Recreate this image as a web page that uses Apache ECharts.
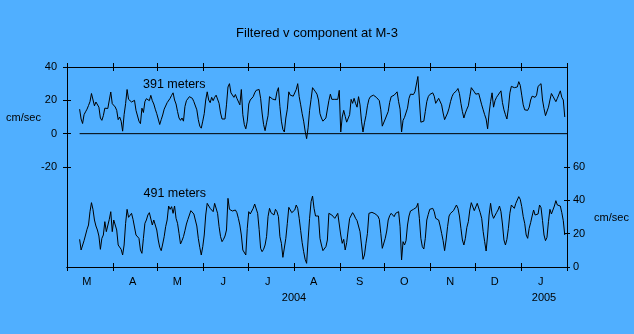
<!DOCTYPE html>
<html>
<head>
<meta charset="utf-8">
<script src="https://cdn.jsdelivr.net/npm/echarts@6/dist/echarts.min.js"></script>
<style>
html,body{margin:0;padding:0;background:#50AFFF;}
#c{width:634px;height:334px;}
</style>
</head>
<body>
<div id="c"></div>
<script>
// ---- Data ----
const TITLE = 'Filtered v component at M-3';
const seriesNames = ['391 meters', '491 meters'];
const monthLabels = ['M','A','M','J','J','A','S','O','N','D','J'];
const yearLabels = ['2004','2005'];
const leftTickValues = [-20, 0, 20, 40];
const rightTickValues = [0, 20, 40, 60];
// first sample is on day 8.5 after 1 March 2004, one value per day
const START_DAY = 8.5;
const v391 = [
14.7,8.8,6.1,11.4,13.1,14.7,16.9,19.2,24.1,24.5,
16.7,19,20.2,15.9,9.4,8,10.8,15.3,14.3,15.1,
14.7,25,18,19,16,14,8.4,10,7.5,1.5,
11.4,18,26.5,20.6,19.8,19,19,20,14,14.7,
7.5,6,15.3,12.7,19.2,21,20.6,19.8,23,19.8,
17.8,14.7,12,8.8,5.5,8.4,11.2,14.7,14.3,18.6,
19.8,21.2,23,24.5,20.2,17.8,13.3,9.4,8,9.4,
7.5,16.3,19.8,20.2,22.2,23.1,21.2,19.2,18.6,14.3,
8.4,4.5,3.3,7.5,12,20.2,25.1,20.2,18.6,21.8,
19.8,21.8,23.1,23.7,18.2,12.4,8.8,8.4,8.8,17.3,
28,30,24.5,24.5,21.8,23.5,21.2,20.6,17.3,26.5,
11.4,5.5,2.9,7.5,17.8,20.2,20.2,22.2,24.5,26,
27,26.5,21.2,12.4,5.5,1.8,6.5,10.8,22.2,22.2,
20.8,20.2,20.2,25.1,27.6,16.3,7.5,2.5,1,9.4,
14.7,25.1,23.1,22.5,22.5,23.1,26.5,30,22.2,17.3,
12,7.5,1.6,-3,3.5,14,20.6,27.6,27,25.1,
23.7,20.2,
12,9.4,7.5,8,9.4,8.2,19.8,23.7,20.6,21.2,
20.6,20.6,20.6,26,1,10,14,10.4,6.9,8,
11.4,20.6,18.2,21.2,18.2,15.9,22.2,17.3,7.5,1,
6.5,10.8,16.7,20.6,22.2,23,23.1,22.5,21.8,20.8,
19.8,14.3,4.5,4.9,8.8,9.2,13.3,18.8,22.2,23.1,
23.1,23.7,25.1,19.2,14.7,1,8,9.8,10.4,15.3,
21.2,23.7,24.5,23.5,25.1,24.1,34.3,20.2,6.9,8,
7.5,13.3,19.2,22.2,23.5,24.5,24.5,22.5,18.2,19.2,
21.2,20.6,17.3,12.4,8.4,9.4,12.4,15.3,19.2,22.2,
24.1,23.7,25.7,27.1,24.1,18.2,13.3,9.4,12.4,14.7,
16.7,22.2,27.6,27.6,25.1,23.7,24.1,24.1,23.1,17.3,
14.3,11.4,8.8,2.9,12.4,19.2,24.5,15.9,19.8,21.8,
23.1,24.1,25.7,18.6,14.3,11.4,8.8,15.3,24.5,28.4,
27.5,27.6,26.5,28,31.2,29,23.1,17.3,14.3,14.3,
14,15.9,20.2,22.5,23.7,21.8,23.1,28.4,29.6,30,
20.2,15.1,10.8,11.4,15.9,20.2,24.1,22.5,22.2,19.2,
21.2,21.2,25.7,21.8,20.2,10
];
const v491 = [
16.6,10.2,10.2,15.8,19.2,22.6,25.2,33.2,38.6,34.6,
28.2,24.6,22.2,18.6,10.6,17.2,19.2,27.2,21.2,21.2,
28.6,33.2,21.2,28.2,27.2,22.2,13.2,13.8,10.6,7.2,
13.2,26.2,34.6,29.8,30.2,32.2,28.6,28.6,19.2,20.2,
17.2,10.2,8.2,17.2,26.2,28.2,31.2,32.6,32.2,25.2,
28.2,25.2,22.2,16.2,11.8,9.8,13.8,18.2,24.2,28.2,
36.6,34.6,36.2,32.2,36.6,29.2,26.2,20.2,13.8,15.8,
18.2,21.8,25.8,28.6,31.2,33.8,33.8,31.8,28.2,24.6,
17.2,11.8,7.2,12.2,19.2,31.2,38.2,37.2,35.2,35.2,
33.2,38.2,39.2,32.2,24.2,18.2,15.2,16.6,18.6,22.2,
41.2,34.6,34.2,33.6,34.2,34.2,32.6,29.2,25.2,19.2,
10.2,10.2,7.2,23.2,33.2,31.8,31.2,35.2,37.8,38.2,
32.2,22.6,11.2,9.2,10.6,13.2,18.2,30.2,35.2,32.6,
32.2,31.2,34.6,33.2,30.2,18.2,14.2,5.8,6.6,17.2,
26.2,35.8,36.2,32.6,32.6,34.2,37.2,35.2,29.2,21.8,
14.6,9.2,4.6,2.2,16.2,29.2,39.2,42.6,35.2,30.6,
31.2,30.6,
17.2,13.2,9.8,10.8,12.2,16.2,32.2,31.2,31.2,30.6,
29.2,28.2,32.2,33.2,19.2,14.2,16.6,10.2,14.6,22.2,
29.2,28.6,32.6,31.2,29.2,27.8,28.6,21.2,13.2,4.6,
7.2,14.2,20.2,32.2,32.2,32.8,32,32,31.8,30.6,
28.6,20.2,11.2,11.2,17.2,21.6,28.2,30.8,32.2,31.2,
30.2,32.2,32.8,33.2,24.2,4.2,15.2,13.2,15.8,25.2,
30.6,33.6,34.6,34.6,35.2,35.8,38.2,29.2,17.2,12.2,
10.8,17.2,28.2,31.6,34.6,35.2,35.2,33.2,29.2,29.8,
28.2,24.6,20.2,15.8,9.8,16.2,24.2,30.6,32.2,31.2,
33.8,33.2,37.2,35.2,30.6,23.2,16.2,13.2,17.2,23.8,
27.2,34.2,38.6,37.8,33.8,34.2,38.2,37.2,32.6,29.2,
21.2,15.2,9.6,19.2,31.2,38.2,31.8,29.2,29.8,32.6,
34.2,36.6,33.2,25.8,16.2,13.2,16.6,23.2,32.2,37.2,
36.6,35.2,38.2,40.2,42.2,40.6,36.2,30.2,26.2,19.2,
17.2,23.2,26.6,30.6,34.2,31.2,32.2,31.8,37.2,35.6,
27.8,19.2,15.8,17.8,27.2,34.6,31.8,31.2,36.6,39.8,
37.2,37.8,36.6,32.6,27.8,19.2
];

// ---- Calendar helpers (days since 1 March 2004) ----
const DAY = 86400000;
const ORIGIN = Date.UTC(2004, 2, 1);
const monthTickDays = [];
for (let m = 0; m <= 11; m++) monthTickDays.push((Date.UTC(2004, 2 + m, 1) - ORIGIN) / DAY);
const AXIS_MAX = monthTickDays[monthTickDays.length - 1];
const LABEL_OFFSET_DAYS = 13.3;
const monthLabelDays = monthTickDays.slice(0, 11).map(d => d + LABEL_OFFSET_DAYS);
const yearLabelDays = [monthTickDays[5], (monthTickDays[10] + monthTickDays[11]) / 2];

const FONT = '"Liberation Sans", Arial, sans-serif';
const toPairs = vals => vals.map((v, i) => [START_DAY + i, v]);
const pick = (positions, labels) => v => {
  for (let i = 0; i < positions.length; i++) if (Math.abs(positions[i] - v) < 0.01) return labels[i];
  return '';
};

const black = { color: '#000', width: 1 };
function xAx(pos, inside, label) {
  return {
    type: 'value', min: 0, max: AXIS_MAX, position: pos,
    splitLine: { show: false },
    axisLine: { show: true, onZero: false, lineStyle: black },
    axisTick: { show: true, inside: inside, length: 4, customValues: monthTickDays, lineStyle: black },
    axisLabel: label || { show: false }
  };
}
function yAx(pos, min, max, ticks, len, inside, label) {
  return {
    type: 'value', min: min, max: max, interval: 20, position: pos,
    splitLine: { show: false },
    axisLine: { show: true, onZero: false, lineStyle: black },
    axisTick: { show: true, inside: inside, length: len, customValues: ticks, lineStyle: black },
    axisLabel: label || { show: false }
  };
}

const chart = echarts.init(document.getElementById('c'), null, { renderer: 'canvas' });
chart.setOption({
  animation: false,
  backgroundColor: '#50AFFF',
  textStyle: { fontFamily: FONT },
  title: {
    text: TITLE, left: 'center', top: 27, padding: 0,
    textStyle: { fontSize: 13, fontWeight: 'normal', color: '#000', fontFamily: FONT }
  },
  grid: { left: 67, right: 67, top: 67, bottom: 67, containLabel: false },
  xAxis: [
    xAx('bottom', false, { show: true, customValues: monthLabelDays, formatter: pick(monthLabelDays, monthLabels), margin: 9, color: '#000', fontSize: 11, fontFamily: FONT }),
    xAx('bottom', true),
    xAx('top', false),
    xAx('top', true),
    {
      type: 'value', min: 0, max: AXIS_MAX, position: 'bottom',
      splitLine: { show: false }, axisLine: { show: false, onZero: false }, axisTick: { show: false },
      axisLabel: { show: true, customValues: yearLabelDays, formatter: pick(yearLabelDays, yearLabels), margin: 25, color: '#000', fontSize: 11, fontFamily: FONT }
    }
  ],
  yAxis: [
    yAx('left', -80, 40, leftTickValues, 4, false, { show: true, customValues: leftTickValues, margin: 10, color: '#000', fontSize: 11, fontFamily: FONT }),
    yAx('left', -80, 40, leftTickValues, 4, true),
    yAx('right', 0, 120, rightTickValues, 3, false, { show: true, customValues: rightTickValues, margin: 6, color: '#000', fontSize: 11, fontFamily: FONT }),
    yAx('right', 0, 120, rightTickValues, 3, true)
  ],
  series: [
    { name: seriesNames[0], type: 'line', xAxisIndex: 0, yAxisIndex: 0, data: toPairs(v391), showSymbol: false, symbol: 'none', lineStyle: black, silent: true },
    { name: seriesNames[1], type: 'line', xAxisIndex: 0, yAxisIndex: 2, data: toPairs(v491), showSymbol: false, symbol: 'none', lineStyle: black, silent: true },
    { name: 'zero', type: 'line', xAxisIndex: 0, yAxisIndex: 0, data: [[START_DAY, 0], [AXIS_MAX, 0]], showSymbol: false, symbol: 'none', lineStyle: black, silent: true }
  ],
  graphic: [
    { type: 'text', x: 143, y: 85, style: { text: seriesNames[0], font: '12.5px ' + FONT, fill: '#000', align: 'left', verticalAlign: 'middle' } },
    { type: 'text', x: 143.5, y: 194, style: { text: seriesNames[1], font: '12.5px ' + FONT, fill: '#000', align: 'left', verticalAlign: 'middle' } },
    { type: 'text', x: 23.5, y: 118, style: { text: 'cm/sec', font: '11px ' + FONT, fill: '#000', align: 'center', verticalAlign: 'middle' } },
    { type: 'text', x: 611.5, y: 218, style: { text: 'cm/sec', font: '11px ' + FONT, fill: '#000', align: 'center', verticalAlign: 'middle' } }
  ]
});
</script>
</body>
</html>
